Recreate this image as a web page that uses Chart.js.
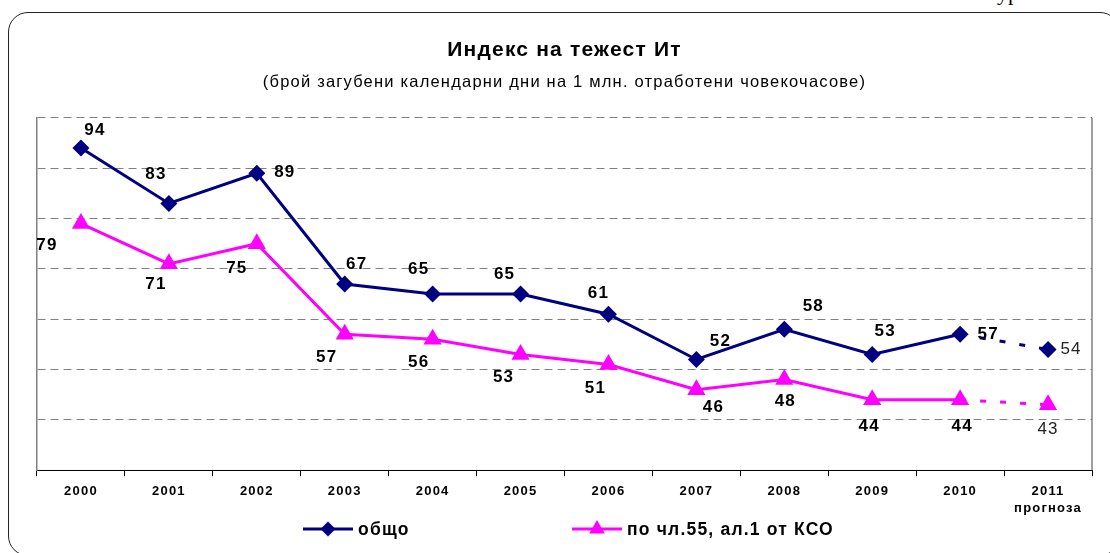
<!DOCTYPE html>
<html>
<head>
<meta charset="utf-8">
<script src="https://cdn.jsdelivr.net/npm/chart.js@4.4.1/dist/chart.umd.min.js"></script>
<style>
  html, body { margin: 0; padding: 0; background: #fff; overflow: hidden; }
  #wrap { position: relative; width: 1110px; height: 553px; }
  #frame { position: absolute; left: 8px; top: 12px; width: 1110px; height: 542px;
           border: 1.5px solid #222; border-radius: 20px; }
  #cut { position: absolute; left: 997px; top: -20px; font: 22px "Liberation Serif", serif; color: #000; }
  canvas { position: absolute; left: 0; top: 0; }
</style>
</head>
<body>
<div id="wrap">
  <div id="frame"></div>
  <div id="cut">ур</div>
  <canvas id="myChart" width="1110" height="553"></canvas>
</div>
<script>
// данни
var godini = ['2000', '2001', '2002', '2003', '2004', '2005', '2006', '2007', '2008', '2009', '2010', ['2011', 'прогноза']];
var obshto = [94, 83, 89, 67, 65, 65, 61, 52, 58, 53, 57, 54];
var kso = [79, 71, 75, 57, 56, 53, 51, 46, 48, 44, 44, 43];
var imena = ['общо', 'по чл.55, ал.1 от КСО'];

// къде стоят етикетите спрямо точката
var etiketiObshto = [[14, -18], [-13, -29], [28, -1], [12, -20], [-14, -25], [-16, -20], [-10, -21], [24, -18], [29, -23], [13, -23], [28, 0], [23, 0]];
var etiketiKso = [[-34, 22], [-13, 20], [-20, 25], [-18, 23], [-14, 23], [-17, 23], [-13, 24], [17, 18], [1, 22], [-3, 27], [2, 27], [0, 25]];

const FONT = '"Liberation Sans", Arial';
const prognoza = ctx => ctx.p1DataIndex === obshto.length - 1 ? [6, 14] : undefined;

// разредени букви като в оригинала
const razredka = {
    id: 'razredka',
    beforeUpdate(chart) { chart.ctx.letterSpacing = '1.2px'; },
    beforeDraw(chart) { chart.ctx.letterSpacing = '1.2px'; }
};

const etiketi = {
    id: 'etiketi',
    afterDatasetsDraw(chart) {
        var ctx = chart.ctx;
        ctx.save();
        ctx.textAlign = 'center';
        ctx.textBaseline = 'middle';
        [etiketiObshto, etiketiKso].forEach(function (pos, d) {
            var meta = chart.getDatasetMeta(d);
            meta.data.forEach(function (pt, i) {
                var last = i === pos.length - 1;
                ctx.font = last ? '17px ' + FONT : 'bold 17px ' + FONT;
                ctx.fillStyle = last ? '#222' : '#000';
                ctx.fillText(chart.data.datasets[d].data[i], pt.x + pos[i][0], pt.y + pos[i][1]);
            });
        });
        // дясна рамка
        var a = chart.chartArea;
        ctx.strokeStyle = '#808080';
        ctx.lineWidth = 1.5;
        ctx.beginPath();
        ctx.moveTo(a.right, a.top);
        ctx.lineTo(a.right, a.bottom);
        ctx.stroke();
        ctx.restore();
    }
};

const legenda = {
    id: 'legenda',
    afterDraw(chart) {
        var ctx = chart.ctx;
        var y = 529;
        var items = [
            { x: 303, ds: chart.data.datasets[0], r: 7.5 },
            { x: 572, ds: chart.data.datasets[1], r: 9 }
        ];
        ctx.save();
        items.forEach(function (it) {
            ctx.strokeStyle = it.ds.borderColor;
            ctx.lineWidth = 3;
            ctx.beginPath();
            ctx.moveTo(it.x, y);
            ctx.lineTo(it.x + 50, y);
            ctx.stroke();
            ctx.fillStyle = it.ds.backgroundColor;
            Chart.helpers.drawPoint(ctx, { pointStyle: it.ds.pointStyle, radius: it.r, borderWidth: 0 }, it.x + 25, y);
            ctx.fillStyle = '#000';
            ctx.font = 'bold 17.5px ' + FONT;
            ctx.textBaseline = 'middle';
            ctx.textAlign = 'left';
            ctx.fillText(it.ds.label, it.x + 55, y + 1);
        });
        ctx.restore();
    }
};

new Chart(document.getElementById('myChart'), {
    type: 'line',
    data: {
        labels: godini,
        datasets: [{
            label: imena[0],
            data: obshto,
            borderColor: '#000080',
            backgroundColor: '#000080',
            borderWidth: 3,
            pointStyle: 'rectRot',
            pointRadius: 8.5,
            pointBorderWidth: 0,
            segment: { borderDash: prognoza }
        }, {
            label: imena[1],
            data: kso,
            borderColor: '#FF00FF',
            backgroundColor: '#FF00FF',
            borderWidth: 3,
            pointStyle: 'triangle',
            pointRadius: 10.5,
            pointBorderWidth: 0,
            segment: { borderDash: prognoza }
        }]
    },
    options: {
        responsive: false,
        animation: false,
        layout: { padding: { left: 37, right: 18, top: 30, bottom: 30 } },
        plugins: {
            legend: { display: false },
            tooltip: { enabled: false },
            title: {
                display: true,
                text: 'Индекс на тежест Ит',
                color: '#000',
                font: { family: FONT, size: 21, weight: 'bold' },
                padding: { top: 7.4, bottom: 6 }
            },
            subtitle: {
                display: true,
                text: '(брой загубени календарни дни на 1 млн. отработени човекочасове)',
                color: '#000',
                font: { family: FONT, size: 16.5 },
                padding: { top: 3.5, bottom: 26 }
            }
        },
        scales: {
            x: {
                offset: true,
                grid: { display: true, drawOnChartArea: false, offset: true, tickLength: 6, color: '#000' },
                border: { color: '#000', width: 1 },
                ticks: {
                    color: '#000',
                    padding: 6.5,
                    maxRotation: 0,
                    autoSkip: false,
                    font: { family: FONT, size: 13, weight: 'bold', lineHeight: 1.3 }
                }
            },
            y: {
                min: 30,
                max: 100,
                ticks: { display: false, stepSize: 10 },
                grid: { color: '#808080', lineWidth: 1, drawTicks: false },
                border: { color: '#808080', width: 1.5, dash: [8, 5] }
            }
        }
    },
    plugins: [razredka, etiketi, legenda]
});
</script>
</body>
</html>
